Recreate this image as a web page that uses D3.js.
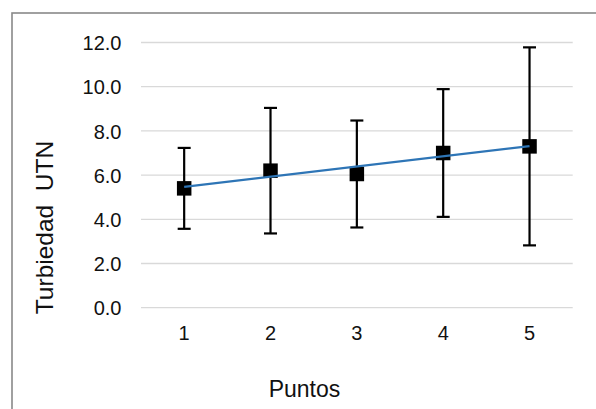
<!DOCTYPE html>
<html>
<head>
<meta charset="utf-8">
<script src="https://cdn.jsdelivr.net/npm/d3@7"></script>
<style>
  html, body { margin: 0; padding: 0; background: #fff; }
  svg { display: block; font-family: Arial, "Liberation Sans", sans-serif; }
</style>
</head>
<body>
<svg id="chart" width="596" height="409"></svg>
<script>
// Turbidity per sampling point: mean and error (±)
const puntos = ["1", "2", "3", "4", "5"];
const medias = [5.4, 6.2, 6.05, 7.0, 7.3];
const errores = [1.83, 2.84, 2.42, 2.89, 4.48];
const yTicks = [0, 2, 4, 6, 8, 10, 12];

const W = 596, H = 409;
const margin = { left: 141, right: 23.3, top: 42.5, bottom: 101.3 };
const tickFont = 20;

const svg = d3.select("#chart");

// outer frame
svg.append("rect")
  .attr("x", 12).attr("y", 13)
  .attr("width", W + 20).attr("height", H + 20)
  .attr("fill", "#fff")
  .attr("stroke", "#898989").attr("stroke-width", 1.6);

const x = d3.scaleBand()
  .domain(puntos)
  .range([margin.left, W - margin.right]);

const y = d3.scaleLinear()
  .domain([0, 12])
  .range([H - margin.bottom, margin.top]);

// horizontal gridlines
svg.append("g")
  .selectAll("line")
  .data(yTicks)
  .join("line")
  .attr("x1", margin.left).attr("x2", W - margin.right)
  .attr("y1", d => y(d)).attr("y2", d => y(d))
  .attr("stroke", "#d9d9d9").attr("stroke-width", 1.3);

// y tick labels
const yAxis = d3.axisLeft(y).tickValues(yTicks).tickFormat(d3.format(".1f")).tickSize(0).tickPadding(0);
const gy = svg.append("g")
  .attr("transform", `translate(121.5,0)`)
  .call(yAxis)
  .attr("font-size", tickFont)
  .attr("font-family", "Arial, 'Liberation Sans', sans-serif");
gy.select(".domain").remove();
gy.selectAll("text")
  .attr("fill", "#111")
  .attr("dy", "0.36em");

// x tick labels
const xAxis = d3.axisBottom(x).tickSize(0).tickPadding(0);
const gx = svg.append("g")
  .attr("transform", `translate(0,${y(0)})`)
  .call(xAxis)
  .attr("font-size", tickFont)
  .attr("font-family", "Arial, 'Liberation Sans', sans-serif");
gx.select(".domain").remove();
gx.selectAll("text")
  .attr("fill", "#111")
  .attr("dy", null)
  .attr("y", 32.5);

const cx = p => x(p) + x.bandwidth() / 2;
const data = puntos.map((p, i) => ({ p, m: medias[i], e: errores[i] }));

// error bars
const eb = svg.append("g").attr("stroke", "#000").attr("stroke-width", 2.2);
eb.selectAll("line.stem").data(data).join("line").attr("class", "stem")
  .attr("x1", d => cx(d.p)).attr("x2", d => cx(d.p))
  .attr("y1", d => y(d.m + d.e)).attr("y2", d => y(d.m - d.e));
eb.selectAll("line.capTop").data(data).join("line").attr("class", "capTop")
  .attr("x1", d => cx(d.p) - 6.5).attr("x2", d => cx(d.p) + 6.5)
  .attr("y1", d => y(d.m + d.e)).attr("y2", d => y(d.m + d.e));
eb.selectAll("line.capBot").data(data).join("line").attr("class", "capBot")
  .attr("x1", d => cx(d.p) - 6.5).attr("x2", d => cx(d.p) + 6.5)
  .attr("y1", d => y(d.m - d.e)).attr("y2", d => y(d.m - d.e));

// square markers
const ms = 14.5;
svg.append("g").selectAll("rect").data(data).join("rect")
  .attr("x", d => cx(d.p) - ms / 2).attr("y", d => y(d.m) - ms / 2)
  .attr("width", ms).attr("height", ms)
  .attr("fill", "#000");

// linear trendline through the means
const xs = puntos.map((p, i) => i + 1);
const xm = d3.mean(xs), ym = d3.mean(medias);
const slope = d3.sum(xs, (xi, i) => (xi - xm) * (medias[i] - ym)) / d3.sum(xs, xi => (xi - xm) ** 2);
const icpt = ym - slope * xm;
svg.append("line")
  .attr("x1", cx(puntos[0])).attr("y1", y(icpt + slope * xs[0]))
  .attr("x2", cx(puntos[puntos.length - 1])).attr("y2", y(icpt + slope * xs[xs.length - 1]))
  .attr("stroke", "#2e75b6").attr("stroke-width", 2.2);

// axis titles
svg.append("text")
  .attr("x", 304.5).attr("y", 397.3)
  .attr("text-anchor", "middle")
  .attr("font-size", 23)
  .attr("fill", "#111")
  .text("Puntos");

svg.append("text")
  .attr("transform", "translate(53,227.5) rotate(-90)")
  .attr("text-anchor", "middle")
  .attr("font-size", 24.5)
  .attr("fill", "#111")
  .attr("xml:space", "preserve")
  .style("white-space", "pre")
  .text("Turbiedad  UTN");
</script>
</body>
</html>
